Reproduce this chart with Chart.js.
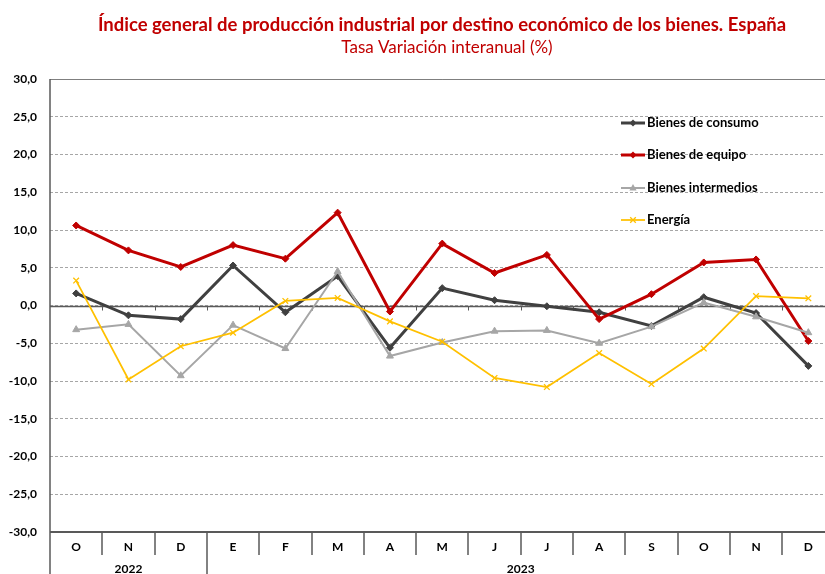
<!DOCTYPE html>
<html>
<head>
<meta charset="utf-8">
<script src="https://cdn.jsdelivr.net/npm/chart.js@4.4.1/dist/chart.umd.min.js"></script>
<style>
html,body{margin:0;padding:0;background:#fff;overflow:hidden;}
#wrap{position:relative;width:884px;height:574px;}
</style>
</head>
<body>
<div id="wrap"><canvas id="c"></canvas></div>
<script>
const categories = ['O','N','D','E','F','M','A','M','J','J','A','S','O','N','D'];
const yearLabels = ['2022','2023'];
const yearStart = [0,3];
const yearEnd = [2,14];
const seriesNames = ['Bienes de consumo','Bienes de equipo','Bienes intermedios','Energía'];
const consumo = [1.6,-1.3,-1.8,5.3,-0.9,3.9,-5.6,2.3,0.7,-0.1,-0.9,-2.7,1.1,-1.0,-8.0];
const equipo = [10.6,7.3,5.1,8.0,6.2,12.3,-0.8,8.2,4.3,6.7,-1.8,1.5,5.7,6.1,-4.7];
const intermedios = [-3.2,-2.5,-9.3,-2.6,-5.7,4.5,-6.7,-4.9,-3.4,-3.3,-5.0,-2.8,0.4,-1.5,-3.6];
const energia = [3.3,-9.8,-5.4,-3.6,0.6,1.0,-2.1,-4.8,-9.6,-10.8,-6.3,-10.4,-5.7,1.25,0.95];
const yMin = -30, yMax = 30, yStep = 5;
const titleText = 'Índice general de producción industrial por destino económico de los bienes. España';
const subtitleText = 'Tasa Variación interanual (%)';

const FONT = 'Lato, "Liberation Sans", sans-serif';
const colors = ['#404040','#C00000','#A6A6A6','#FFC000'];
const widths = [3,3,2,1.75];
const styles = ['rectRot','rectRot','triangle','crossRot'];
const radii = [3.5,3.5,4,4];

function drawMarker(ctx, style, x, y, r, color){
  ctx.save();
  ctx.fillStyle = color; ctx.strokeStyle = color;
  ctx.beginPath();
  if (style === 'rectRot'){
    ctx.moveTo(x, y-r); ctx.lineTo(x+r, y); ctx.lineTo(x, y+r); ctx.lineTo(x-r, y); ctx.closePath(); ctx.fill();
  } else if (style === 'triangle'){
    ctx.moveTo(x, y-r); ctx.lineTo(x+r*0.9, y+r*0.6); ctx.lineTo(x-r*0.9, y+r*0.6); ctx.closePath(); ctx.fill();
  } else {
    ctx.lineWidth = 1.3;
    ctx.moveTo(x-r*0.7,y-r*0.7); ctx.lineTo(x+r*0.7,y+r*0.7);
    ctx.moveTo(x+r*0.7,y-r*0.7); ctx.lineTo(x-r*0.7,y+r*0.7); ctx.stroke();
  }
  ctx.restore();
}

const decor = {
  id:'decor',
  beforeDatasetsDraw(chart){
    const {ctx, chartArea:a, scales:{x,y}} = chart;
    ctx.save();
    // top line
    ctx.strokeStyle = '#7f7f7f'; ctx.lineWidth = 1;
    const t = Math.round(y.getPixelForValue(yMax))+0.5;
    ctx.beginPath(); ctx.moveTo(a.left, t); ctx.lineTo(a.right, t); ctx.stroke();
    // zero line with ticks
    const z = Math.round(y.getPixelForValue(0))+0.5;
    const half = (x.getPixelForValue(1)-x.getPixelForValue(0))/2;
    ctx.strokeStyle = '#595959'; ctx.lineWidth = 1.5;
    ctx.beginPath(); ctx.moveTo(a.left, z); ctx.lineTo(a.right, z); ctx.stroke();
    ctx.lineWidth = 1;
    for (let i=1;i<categories.length;i++){
      const bx = Math.round(x.getPixelForValue(i)-half)+0.5;
      ctx.beginPath(); ctx.moveTo(bx, z); ctx.lineTo(bx, z+4); ctx.stroke();
    }
    ctx.restore();
  },
  afterDraw(chart){
    const {ctx, chartArea:a, scales:{x,y}} = chart;
    const H = chart.height;
    const half = (x.getPixelForValue(1)-x.getPixelForValue(0))/2;
    ctx.save();
    // titles
    ctx.fillStyle = '#C00000'; ctx.textAlign = 'center'; ctx.textBaseline = 'middle';
    ctx.font = 'bold 18.5px ' + FONT;
    ctx.fillText(titleText, 442, 25);
    ctx.font = '17px ' + FONT;
    ctx.fillText(subtitleText, 447, 48);
    // left axis
    ctx.strokeStyle = '#595959'; ctx.lineWidth = 1.5;
    ctx.beginPath(); ctx.moveTo(a.left, a.top); ctx.lineTo(a.left, H); ctx.stroke();
    // bottom line
    const b = y.getPixelForValue(yMin);
    ctx.lineWidth = 2;
    ctx.beginPath(); ctx.moveTo(a.left, b); ctx.lineTo(a.right, b); ctx.stroke();
    // separators
    ctx.lineWidth = 1.5;
    for (let i=1;i<=categories.length;i++){
      const bx = Math.round(x.getPixelForValue(i)-half);
      const long = yearStart.includes(i);
      ctx.beginPath(); ctx.moveTo(bx, b); ctx.lineTo(bx, long ? H : b+23); ctx.stroke();
    }
    // year labels
    ctx.fillStyle = '#000'; ctx.font = 'bold 12px ' + FONT;
    ctx.textAlign = 'center'; ctx.textBaseline = 'middle';
    for (let k=0;k<yearLabels.length;k++){
      const cx = (x.getPixelForValue(yearStart[k]) + x.getPixelForValue(yearEnd[k]))/2;
      ctx.fillText(yearLabels[k], cx, b+37);
    }
    // legend
    const lx = a.left + 572, ly = a.top + 44, step = 32.3;
    ctx.textAlign = 'left';
    ctx.font = 'bold 13px ' + FONT;
    for (let k=0;k<seriesNames.length;k++){
      const yy = Math.round(ly + k*step);
      ctx.strokeStyle = colors[k]; ctx.lineWidth = widths[k];
      ctx.beginPath(); ctx.moveTo(lx-1, yy); ctx.lineTo(lx+23, yy); ctx.stroke();
      drawMarker(ctx, styles[k], lx+11, yy, radii[k], colors[k]);
      ctx.fillStyle = '#000';
      ctx.fillText(seriesNames[k], lx+25, yy);
    }
    ctx.restore();
  }
};

const data = [consumo, equipo, intermedios, energia];
new Chart(document.getElementById('c'), {
  type:'line',
  data:{
    labels: categories,
    datasets: data.map((d,k)=>({
      label: seriesNames[k],
      data: d,
      borderColor: colors[k],
      backgroundColor: colors[k],
      borderWidth: widths[k],
      pointStyle: styles[k],
      pointRadius: radii[k],
      pointBorderWidth: k===3 ? 1.3 : 1,
      pointBorderColor: colors[k],
      pointBackgroundColor: colors[k],
      tension: 0,
      fill: false,
      order: 3-k
    }))
  },
  options:{
    responsive:true, maintainAspectRatio:false, animation:false,
    layout:{padding:{left:0,right:49.5,top:79,bottom:0}},
    plugins:{ legend:{display:false}, tooltip:{enabled:false} },
    scales:{
      x:{
        type:'category', offset:true,
        grid:{display:false, drawTicks:false},
        border:{display:false},
        ticks:{color:'#000', font:{family:FONT, size:12, weight:'bold'}, padding:8, maxRotation:0, autoSkip:false},
        afterFit(s){ s.height = 42; }
      },
      y:{
        min:yMin, max:yMax,
        grid:{color:'#A6A6A6', lineWidth:1, drawTicks:false},
        border:{display:false, dash:[3,2]},
        ticks:{stepSize:yStep, color:'#000', font:{family:FONT, size:12, weight:'bold'}, padding:13,
          callback:(v)=>v.toFixed(1).replace('.',',')},
        afterFit(s){ s.width = 50; }
      }
    }
  },
  plugins:[decor]
});
</script>
</body>
</html>
